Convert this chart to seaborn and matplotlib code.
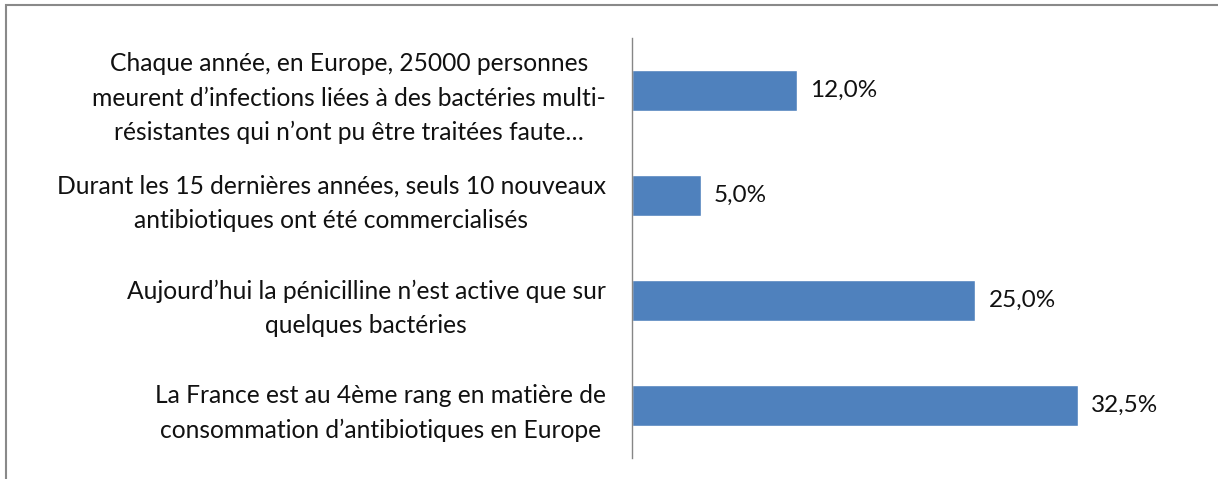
import matplotlib
matplotlib.use("Agg")
import matplotlib.pyplot as plt
from matplotlib.patches import Rectangle
import seaborn as sns
import pandas as pd

categories = [
    "Chaque année, en Europe, 25000 personnes\nmeurent d’infections liées à des bactéries multi-\nrésistantes qui n’ont pu être traitées faute…",
    "Durant les 15 dernières années, seuls 10 nouveaux\nantibiotiques ont été commercialisés",
    "Aujourd’hui la pénicilline n’est active que sur\nquelques bactéries",
    "La France est au 4ème rang en matière de\nconsommation d’antibiotiques en Europe",
]
values = [12.0, 5.0, 25.0, 32.5]
value_labels = ["12,0%", "5,0%", "25,0%", "32,5%"]

df = pd.DataFrame({"statement": categories, "share": values})

sns.set_theme(style="white")
plt.rcParams["font.family"] = ["Lato", "DejaVu Sans"]

W, H, DPI = 1218, 479, 100
fig = plt.figure(figsize=(W / DPI, H / DPI), dpi=DPI)
fig.patch.set_facecolor("white")

# axes placement in pixels: left edge at the category axis, spanning the four bands
ax_left, ax_right = 632, 1160
ax_top, ax_bottom = 38, 458
ax = fig.add_axes([ax_left / W, 1 - ax_bottom / H,
                   (ax_right - ax_left) / W, (ax_bottom - ax_top) / H])

sns.barplot(data=df, x="share", y="statement", orient="h", color="#4F81BD",
            saturation=1, width=0.39, ax=ax)

ax.set_xlim(0, (ax_right - ax_left) / 13.73)
ax.set_ylim(len(categories) - 0.5, -0.5)

for i, (v, lab) in enumerate(zip(values, value_labels)):
    ax.annotate(lab, xy=(v, i), xytext=(9.5, 0), textcoords="offset points",
                ha="left", va="center", fontsize=17.5, color="#111111")

ax.set_xlabel("")
ax.set_ylabel("")
ax.set_xticks([])
ax.tick_params(axis="y", length=0, pad=19, labelsize=17.7, labelcolor="#111111")
for t in ax.get_yticklabels():
    t.set_multialignment("center")
    t.set_linespacing(1.6)

for side in ["top", "right", "bottom"]:
    ax.spines[side].set_visible(False)
ax.spines["left"].set_color("#868686")
ax.spines["left"].set_linewidth(1.0)

# chart frame: only top and left edges fall inside the canvas
fig.add_artist(Rectangle((6 / W, -0.2), 2.0, 1.2 - 5 / H,
                         transform=fig.transFigure, fill=False,
                         edgecolor="#898989", linewidth=1.5))

fig.savefig("out.png", dpi=DPI, facecolor="white")
